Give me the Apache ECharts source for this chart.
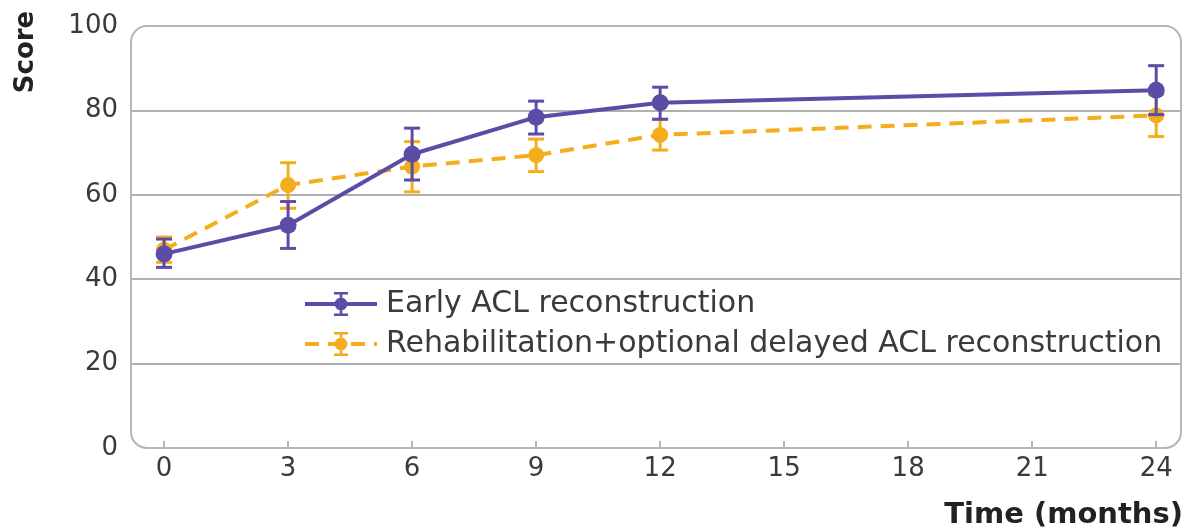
<!DOCTYPE html>
<html>
<head>
<meta charset="utf-8">
<script src="https://cdn.jsdelivr.net/npm/echarts@6/dist/echarts.min.js"></script>
<style>
  html, body { margin: 0; padding: 0; background: #fff; }
  #chart { width: 1185px; height: 531px; }
</style>
</head>
<body>
<div id="chart"></div>
<script>
// months of follow-up and x tick labels
const months = [0, 3, 6, 9, 12, 24];
const tickValues = [0, 3, 6, 9, 12, 15, 18, 21, 24];
const scoreTicks = [0, 20, 40, 60, 80, 100];

// early ACL reconstruction: mean and error bar ends
const earlyScore = [46, 52.8, 69.6, 78.4, 81.8, 84.8];
const earlyLow = [42.8, 47.3, 63.5, 74.4, 77.9, 79];
const earlyHigh = [49.5, 58.4, 75.8, 82.2, 85.5, 90.6];

// rehabilitation + optional delayed ACL reconstruction
const rehabScore = [47, 62.3, 66.7, 69.4, 74.2, 78.8];
const rehabLow = [44, 56.8, 60.7, 65.5, 70.6, 73.8];
const rehabHigh = [50, 67.6, 72.6, 73.2, 77.9, 83.8];

const seriesNames = ['Early ACL reconstruction', 'Rehabilitation+optional delayed ACL reconstruction'];

const purple = '#5b4ca8';
const orange = '#f4ad1c';
const font = 'DejaVu Sans';

// circle with error bar, only used for the legend icon
const legendIcon = 'path://M0,12 L0.01,12 Z M23.99,12 L24,12 Z ' +
  'M5,0 L19,0 L19,2.6 L5,2.6 Z M10.7,2.6 L13.3,2.6 L13.3,5.5 L10.7,5.5 Z ' +
  'M12,5.5 A6.5,6.5 0 1 1 12,18.5 A6.5,6.5 0 1 1 12,5.5 Z ' +
  'M10.7,18.5 L13.3,18.5 L13.3,21.4 L10.7,21.4 Z M5,21.4 L19,21.4 L19,24 L5,24 Z';

function errorBars(color) {
  return function (params, api) {
    const x = api.value(0);
    const lo = api.coord([x, api.value(1)]);
    const hi = api.coord([x, api.value(2)]);
    const half = 8;
    const style = { stroke: color, lineWidth: 3 };
    return {
      type: 'group',
      children: [
        { type: 'line', shape: { x1: lo[0], y1: lo[1], x2: hi[0], y2: hi[1] }, style: style },
        { type: 'line', shape: { x1: lo[0] - half, y1: lo[1], x2: lo[0] + half, y2: lo[1] }, style: style },
        { type: 'line', shape: { x1: hi[0] - half, y1: hi[1], x2: hi[0] + half, y2: hi[1] }, style: style },
      ],
    };
  };
}

const chart = echarts.init(document.getElementById('chart'));

const option = {
  animation: false,
  backgroundColor: '#fff',
  textStyle: { fontFamily: font },
  grid: { left: 131, right: 4, top: 26, bottom: 83 },
  legend: {
    data: seriesNames,
    orient: 'vertical',
    left: 298,
    top: 284,
    itemWidth: 72,
    itemHeight: 30,
    itemGap: 10,
    lineStyle: { width: 4 },
    textStyle: { fontSize: 30, color: '#3a3a3a', fontFamily: font, padding: [0, 0, 0, 4] },
  },
  xAxis: {
    type: 'value',
    min: -0.8,
    max: 24.6,
    axisLine: { show: false },
    splitLine: { show: false },
    axisTick: {
      show: true,
      inside: true,
      length: 7,
      customValues: tickValues,
      lineStyle: { color: '#b5b5b5', width: 2 },
    },
    axisLabel: {
      customValues: tickValues,
      fontSize: 26,
      color: '#3a3a3a',
      margin: 8,
    },
  },
  yAxis: {
    type: 'value',
    min: 0,
    max: 100,
    interval: 20,
    axisLine: { show: false },
    axisTick: { show: false },
    axisLabel: {
      customValues: scoreTicks,
      fontSize: 26,
      color: '#3a3a3a',
      margin: 13,
    },
    splitLine: {
      show: true,
      showMinLine: false,
      showMaxLine: false,
      lineStyle: { color: '#b0b0b0', width: 2 },
    },
  },
  graphic: [
    {
      type: 'rect',
      shape: { x: 131, y: 26, width: 1050, height: 422, r: 16 },
      style: { fill: 'none', stroke: '#b5b5b5', lineWidth: 2 },
      z: 1,
    },
    {
      type: 'text',
      x: 26,
      y: 52,
      rotation: Math.PI / 2,
      style: {
        text: 'Score',
        fontFamily: font,
        fontSize: 26,
        fontWeight: 'bold',
        fill: '#222',
        align: 'center',
        verticalAlign: 'middle',
      },
    },
    {
      type: 'text',
      x: 1183,
      y: 515,
      style: {
        text: 'Time (months)',
        fontFamily: font,
        fontSize: 29,
        fontWeight: 'bold',
        fill: '#222',
        align: 'right',
        verticalAlign: 'middle',
      },
    },
  ],
  series: [
    {
      type: 'custom',
      name: 'rehab-error',
      renderItem: errorBars(orange),
      data: months.map((m, i) => [m, rehabLow[i], rehabHigh[i]]),
      z: 2,
    },
    {
      type: 'line',
      name: seriesNames[1],
      data: months.map((m, i) => ({ value: [m, rehabScore[i]], symbol: 'circle' })),
      symbol: legendIcon,
      symbolSize: 16,
      color: orange,
      lineStyle: { color: orange, width: 4, type: [14, 9] },
      itemStyle: { color: orange },
      z: 3,
    },
    {
      type: 'custom',
      name: 'early-error',
      renderItem: errorBars(purple),
      data: months.map((m, i) => [m, earlyLow[i], earlyHigh[i]]),
      z: 4,
    },
    {
      type: 'line',
      name: seriesNames[0],
      data: months.map((m, i) => ({ value: [m, earlyScore[i]], symbol: 'circle' })),
      symbol: legendIcon,
      symbolSize: 17,
      color: purple,
      lineStyle: { color: purple, width: 4 },
      itemStyle: { color: purple },
      z: 5,
    },
  ],
};

chart.setOption(option);
</script>
</body>
</html>
